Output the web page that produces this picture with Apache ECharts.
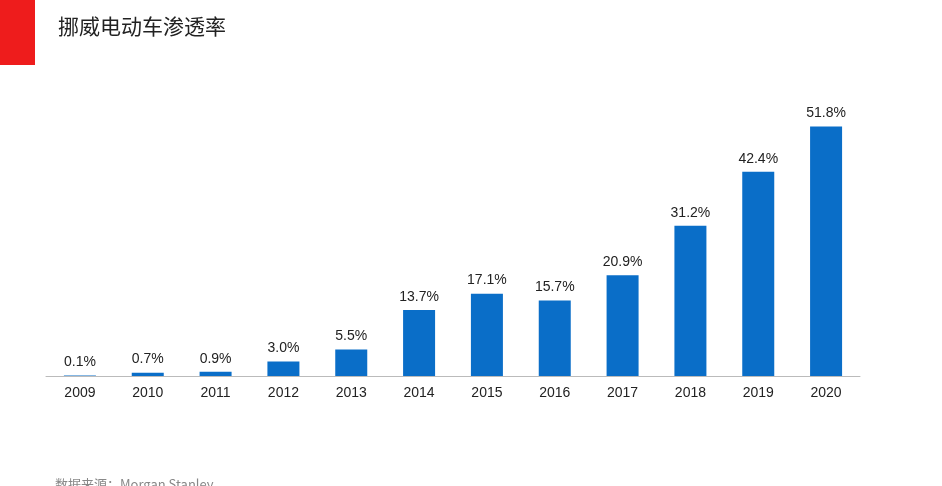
<!DOCTYPE html><html><head><meta charset="utf-8"><script src="https://cdn.jsdelivr.net/npm/echarts@6/dist/echarts.min.js"></script>
<style>body{margin:0;background:#fff}#c{width:942px;height:486px}</style></head><body><div id="c"></div><script>
const categories=['2009','2010','2011','2012','2013','2014','2015','2016','2017','2018','2019','2020'];
const values=[0.1,0.7,0.9,3.0,5.5,13.7,17.1,15.7,20.9,31.2,42.4,51.8];
const c=echarts.init(document.getElementById('c'));
c.setOption({
graphic:[{type:'rect',shape:{x:0,y:0,width:35,height:65},style:{fill:'#ee1c1c'}},
{type:'text',left:58,top:16,style:{text:'挪威电动车渗透率',font:'21px "Noto Sans CJK SC"',fill:'#222'}},
{type:'text',left:55,top:478,style:{text:'数据来源：Morgan Stanley',font:'13px "Noto Sans CJK SC"',fill:'#888'}}],
grid:{left:46,right:82,top:87,bottom:110},
xAxis:{type:'category',data:categories,axisTick:{show:false},axisLine:{lineStyle:{color:'#bbb',width:1}},axisLabel:{color:'#222',fontSize:14,margin:10,fontFamily:'Arial'}},
yAxis:{type:'value',min:0,max:60,show:false,splitLine:{show:false}},
series:[{type:'bar',data:values,barWidth:32,itemStyle:{color:'#0a6ec8'},label:{show:true,position:'top',color:'#222',fontSize:14,fontFamily:'Arial',distance:6,formatter:p=>p.value.toFixed(1)+'%'}}]
});
</script></body></html>
